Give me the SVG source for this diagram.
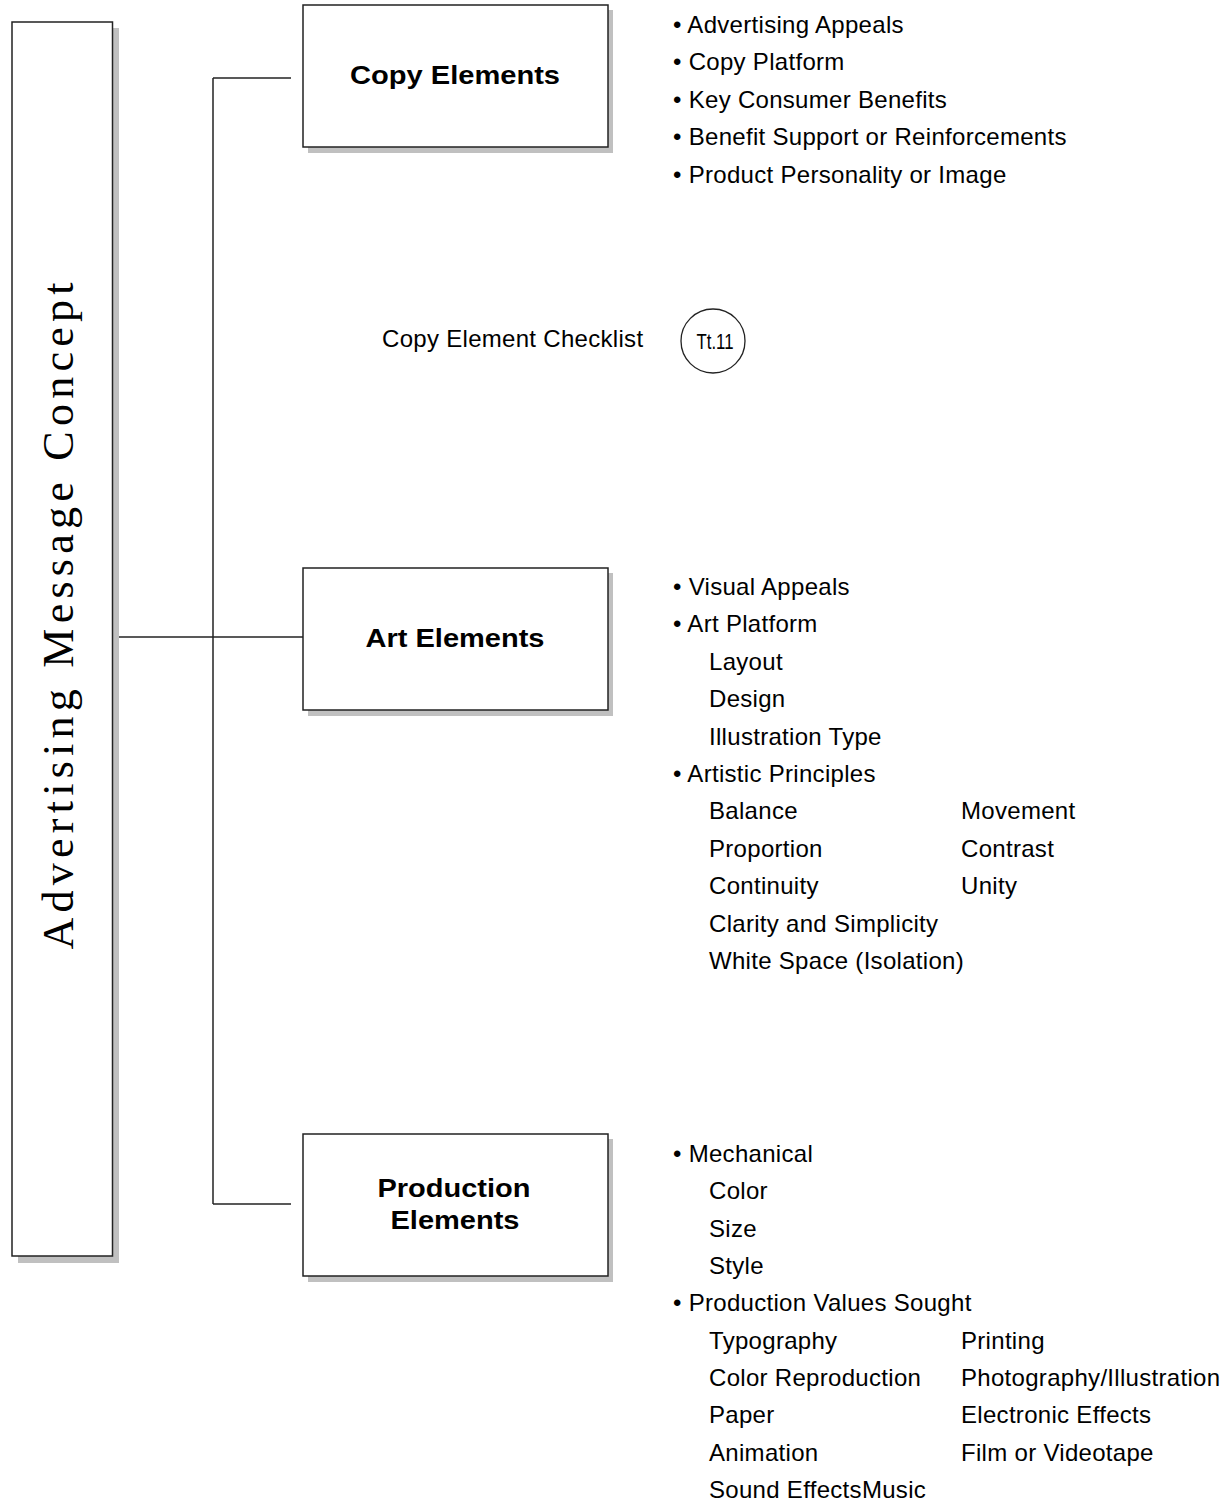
<svg xmlns="http://www.w3.org/2000/svg" width="1230" height="1503" viewBox="0 0 1230 1503">
<style>
.shadow{fill:#c0c0c0;stroke:none}
.box{fill:#fff;stroke:#222;stroke-width:1.5}
.conn{stroke:#222;stroke-width:1.5;fill:none}
.lbl{font-family:"Liberation Sans",Arial,sans-serif;font-weight:bold;font-size:26px;fill:#000;text-anchor:middle}
.item{font-family:"Liberation Sans",Arial,sans-serif;font-size:24px;letter-spacing:0.3px;fill:#000}
.title{font-family:"Liberation Serif","Times New Roman",serif;font-size:44px;fill:#000;text-anchor:middle}
</style>
<rect width="1230" height="1503" fill="#fff"/>
<g id="connectors">
<line class="conn" x1="213" y1="78" x2="213" y2="1204"/>
<line class="conn" x1="213" y1="78" x2="291" y2="78"/>
<line class="conn" x1="119" y1="637" x2="303" y2="637"/>
<line class="conn" x1="213" y1="1204" x2="291" y2="1204"/>
</g>
<g id="concept">
<rect class="shadow" x="18" y="28" width="101" height="1235"/>
<rect class="box" x="12" y="22" width="100.5" height="1234"/>
<text class="title" transform="translate(73,616) rotate(-90)" x="0" y="0" textLength="667" lengthAdjust="spacing">Advertising Message Concept</text>
</g>
<g id="copy">
<rect class="shadow" x="308" y="10" width="305" height="143"/>
<rect class="box" x="303" y="5" width="305" height="142"/>
<text class="lbl" x="455" y="84" textLength="210" lengthAdjust="spacingAndGlyphs">Copy Elements</text>
</g>
<g id="art">
<rect class="shadow" x="308" y="573" width="305" height="143"/>
<rect class="box" x="303" y="568" width="305" height="142"/>
<text class="lbl" x="455" y="647" textLength="179" lengthAdjust="spacingAndGlyphs">Art Elements</text>
</g>
<g id="production">
<rect class="shadow" x="308" y="1139" width="305" height="143"/>
<rect class="box" x="303" y="1134" width="305" height="142"/>
<text class="lbl" x="454" y="1197" textLength="153" lengthAdjust="spacingAndGlyphs">Production</text>
<text class="lbl" x="455" y="1229" textLength="129" lengthAdjust="spacingAndGlyphs">Elements</text>
</g>
<g id="checklist">
<text class="item" x="382" y="347">Copy Element Checklist</text>
<circle cx="713" cy="341" r="32" fill="#fff" stroke="#222" stroke-width="1.3"/>
<text x="715" y="349" font-family="'Liberation Sans',Arial,sans-serif" font-size="22" text-anchor="middle" textLength="37" lengthAdjust="spacingAndGlyphs">Tt.11</text>
</g>
<g id="copy-items" class="item">
<text x="673" y="33">• Advertising Appeals</text>
<text x="673" y="70.4">• Copy Platform</text>
<text x="673" y="107.8">• Key Consumer Benefits</text>
<text x="673" y="145.2">• Benefit Support or Reinforcements</text>
<text x="673" y="182.6">• Product Personality or Image</text>
</g>
<g id="art-items" class="item">
<text x="673" y="595">• Visual Appeals</text>
<text x="673" y="632.4">• Art Platform</text>
<text x="709" y="669.8">Layout</text>
<text x="709" y="707.2">Design</text>
<text x="709" y="744.6">Illustration Type</text>
<text x="673" y="782">• Artistic Principles</text>
<text x="709" y="819.4">Balance</text>
<text x="961" y="819.4">Movement</text>
<text x="709" y="856.8">Proportion</text>
<text x="961" y="856.8">Contrast</text>
<text x="709" y="894.2">Continuity</text>
<text x="961" y="894.2">Unity</text>
<text x="709" y="931.6">Clarity and Simplicity</text>
<text x="709" y="969">White Space (Isolation)</text>
</g>
<g id="production-items" class="item">
<text x="673" y="1162">• Mechanical</text>
<text x="709" y="1199.3">Color</text>
<text x="709" y="1236.7">Size</text>
<text x="709" y="1274">Style</text>
<text x="673" y="1311.3">• Production Values Sought</text>
<text x="709" y="1348.7">Typography</text>
<text x="961" y="1348.7">Printing</text>
<text x="709" y="1386">Color Reproduction</text>
<text x="961" y="1386">Photography/Illustration</text>
<text x="709" y="1423.3">Paper</text>
<text x="961" y="1423.3">Electronic Effects</text>
<text x="709" y="1460.7">Animation</text>
<text x="961" y="1460.7">Film or Videotape</text>
<text x="709" y="1498">Sound EffectsMusic</text>
</g>
</svg>
